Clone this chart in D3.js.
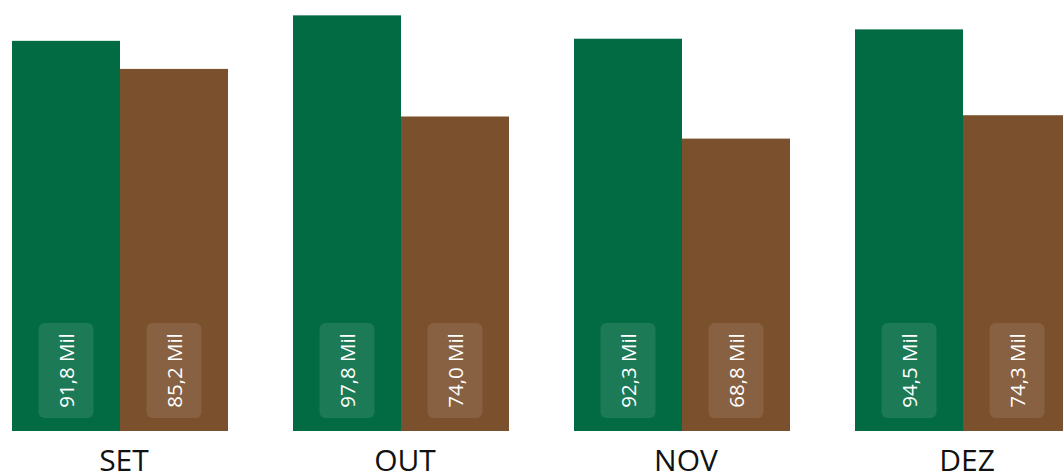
<!DOCTYPE html>
<html>
<head>
<meta charset="utf-8">
<script src="https://cdn.jsdelivr.net/npm/d3@7"></script>
<style>
  body { margin: 0; background: #fff; overflow: hidden; }
  svg { display: block; }
</style>
</head>
<body>
<div id="chart"></div>
<script>
// Data (values in thousands)
var months = ["SET", "OUT", "NOV", "DEZ"];
var seriesA = [91.8, 97.8, 92.3, 94.5];
var seriesB = [85.2, 74.0, 68.8, 74.3];
var seriesKeys = ["a", "b"];
var colors = ["#036b43", "#7a502d"];

var width = 1063,
    height = 473,
    baseline = 431;

var data = months.map(function(m, i) {
  return { month: m, values: [
    { key: "a", value: seriesA[i] },
    { key: "b", value: seriesB[i] }
  ]};
});

var svg = d3.select("#chart")
  .append("svg")
    .attr("width", width)
    .attr("height", height);

// Group scale
var x0 = d3.scaleBand()
  .domain(months)
  .range([12, 1071])
  .paddingInner(65 / 281)
  .paddingOuter(0);

var x1 = d3.scaleBand()
  .domain(seriesKeys)
  .range([0, x0.bandwidth()])
  .padding(0);

var color = d3.scaleOrdinal().domain(seriesKeys).range(colors);

var y = d3.scaleLinear()
  .domain([0, 100])
  .range([baseline, 6]);

var fmt = d3.formatLocale({ decimal: ",", thousands: ".", grouping: [3], currency: ["R$", ""] }).format(".1f");

var groups = svg.selectAll("g.grp")
  .data(data)
  .enter()
  .append("g")
    .attr("class", "grp")
    .attr("transform", function(d) { return "translate(" + x0(d.month) + ",0)"; });

var bars = groups.selectAll("g.bar")
  .data(function(d) { return d.values; })
  .enter()
  .append("g")
    .attr("class", "bar");

bars.append("rect")
  .attr("x", function(d) { return x1(d.key); })
  .attr("y", function(d) { return y(d.value); })
  .attr("width", x1.bandwidth())
  .attr("height", function(d) { return baseline - y(d.value); })
  .attr("fill", function(d) { return color(d.key); });

// Label boxes
var boxW = 55, boxH = 95;
bars.append("rect")
  .attr("x", function(d) { return x1(d.key) + x1.bandwidth() / 2 - boxW / 2; })
  .attr("y", baseline - 13 - boxH)
  .attr("width", boxW)
  .attr("height", boxH)
  .attr("rx", 6)
  .attr("fill", "#ffffff")
  .attr("fill-opacity", 0.1);

bars.append("text")
  .attr("transform", function(d) {
    var cx = x1(d.key) + x1.bandwidth() / 2 + 7.5;
    var cy = baseline - 13 - boxH / 2;
    return "translate(" + cx + "," + cy + ") rotate(-90)";
  })
  .attr("text-anchor", "middle")
  .attr("font-family", "'Open Sans', sans-serif")
  .attr("font-size", "20.5px")
  .attr("fill", "#ffffff")
  .text(function(d) { return fmt(d.value) + " Mil"; });

// Category labels
svg.selectAll("text.cat")
  .data(months)
  .enter()
  .append("text")
    .attr("class", "cat")
    .attr("x", function(d) { return x0(d) + x0.bandwidth() / 2 + 4; })
    .attr("y", 471)
    .attr("text-anchor", "middle")
    .attr("font-family", "'Open Sans', sans-serif")
    .attr("font-size", "30px")
    .attr("fill", "#111111")
    .text(function(d) { return d; });
</script>
</body>
</html>
